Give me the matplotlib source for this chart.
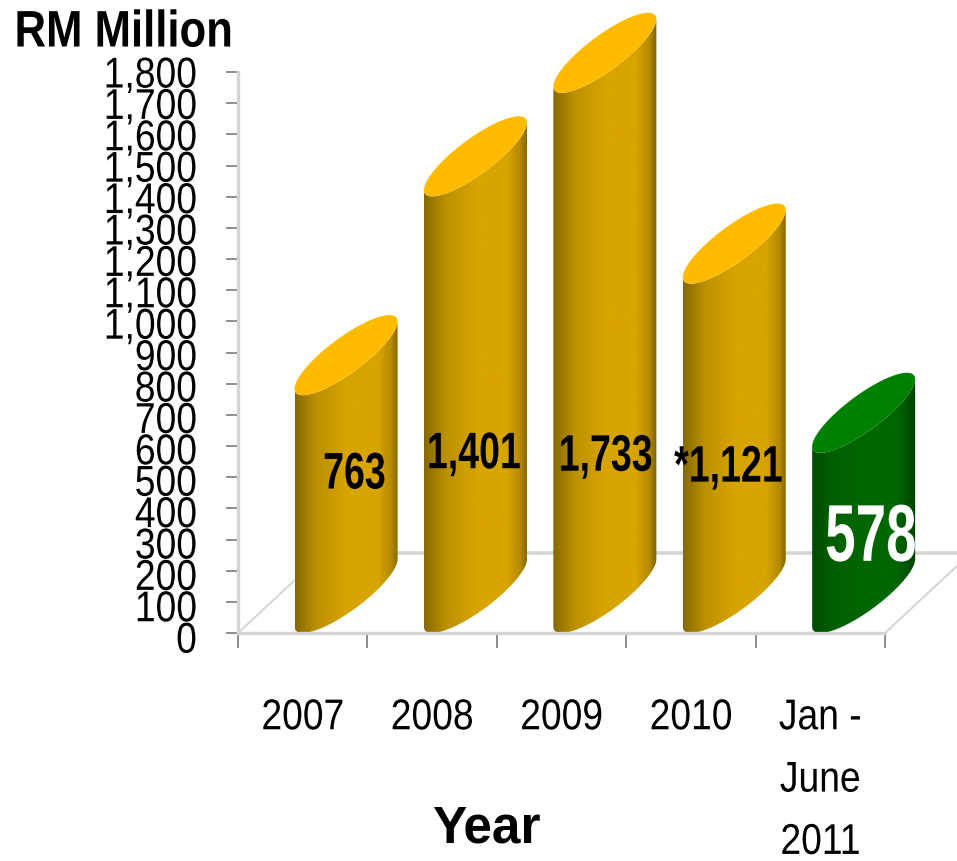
import numpy as np
from matplotlib import pyplot as plt, patheffects
from matplotlib.colors import LinearSegmentedColormap
from matplotlib.patches import PathPatch, Polygon
from matplotlib.path import Path
from matplotlib.transforms import Affine2D, ScaledTranslation

years = ['2007', '2008', '2009', '2010', 'Jan -\nJune\n2011']
values = [763, 1401, 1733, 1121, 578]
value_labels = ['763', '1,401', '1,733', '*1,121', '578']
y_ticks = list(range(0, 1801, 100))

# label centres, x in category units and y in RM million
label_x = [0.90, 1.82, 2.84, 3.79, 4.89]
label_y = [507, 572, 564, 529, 299]
label_colors = ['black', 'black', 'black', 'black', 'white']
label_sizes = [37, 37, 37, 37, 58]
label_squeeze = [0.73, 0.73, 0.73, 0.73, 0.68]

# floor depth, same units as the axes
depth_x = 0.665
depth_y = 257
bar_offset = 0.835
half_width = 0.398
tilt = np.arccos(0.84)

gold = LinearSegmentedColormap.from_list(
    'gold', [(0, '#856800'), (0.2, '#bb9000'), (0.5, '#d8a400'),
             (0.8, '#d8a400'), (0.93, '#b48a00'), (1, '#7a6000')])
green = LinearSegmentedColormap.from_list(
    'green', [(0, '#004a00'), (0.2, '#006000'), (0.5, '#006600'),
              (0.8, '#006600'), (0.93, '#005200'), (1, '#004000')])
bar_maps = [gold, gold, gold, gold, green]
top_colors = ['#ffbb00', '#ffbb00', '#ffbb00', '#ffbb00', '#008000']

font = 'Liberation Sans'
tick_size = 31


class Squeeze(patheffects.AbstractPathEffect):
    """Narrow the glyphs sideways, anchor=0.5 keeps the centre, 1 the right"""

    def __init__(self, factor, anchor=0.5):
        super().__init__()
        self.factor = factor
        self.anchor = anchor

    def draw_path(self, renderer, gc, tpath, affine, rgbFace=None):
        box = tpath.get_extents()
        x0 = box.x0 + self.anchor * box.width
        squeeze = Affine2D().translate(-x0, 0).scale(self.factor, 1).translate(x0, 0)
        renderer.draw_path(gc, tpath, squeeze + affine, rgbFace)


fig = plt.figure(figsize=(9.57, 8.61), dpi=100)
ax = fig.add_axes([238 / 957, 1 - 633 / 861, 647 / 957, 561 / 861])


def ellipse(cx, base, t):
    """Points on the tilted cylinder end whose lowest point sits at base"""
    b = depth_y / 2
    return np.column_stack((cx + half_width * np.cos(t),
                            base + b + b * np.cos(t - tilt)))


# floor of the 3D box
floor_color = '#d4d4d4'
ax.plot([depth_x, 6], [depth_y, depth_y], color=floor_color, lw=2.6,
        clip_on=False, zorder=1)
ax.plot([0, depth_x], [0, depth_y], color=floor_color, lw=1.4,
        clip_on=False, zorder=1)
ax.plot([5, 5 + depth_x], [0, depth_y], color=floor_color, lw=1.4,
        clip_on=False, zorder=1)

lower_arc = np.linspace(np.pi, 2 * np.pi, 80)
for i, value in enumerate(values):
    cx = i + bar_offset
    bottom = ellipse(cx, 0, lower_arc)
    top = ellipse(cx, value, lower_arc)[::-1]
    outline = np.vstack((bottom, top))
    body = PathPatch(Path(np.vstack((outline, outline[:1])), closed=True),
                     facecolor='none', edgecolor='none',
                     transform=ax.transData, clip_on=False)
    ax.add_patch(body)
    shade = np.linspace(0, 1, 256).reshape(1, -1)
    im = ax.imshow(shade, cmap=bar_maps[i], aspect='auto', zorder=2,
                   extent=(cx - half_width, cx + half_width, -10,
                           value + depth_y + 10))
    im.set_clip_box(fig.bbox)
    im.set_clip_path(body)
    ax.add_patch(Polygon(ellipse(cx, value, np.linspace(0, 2 * np.pi, 160)),
                         closed=True, facecolor=top_colors[i],
                         edgecolor='none', clip_on=False, zorder=3))

ax.set_xlim(0, 5)
ax.set_ylim(0, 1800)

for spine in ('top', 'right'):
    ax.spines[spine].set_visible(False)
ax.spines['left'].set(color=floor_color, linewidth=2.4)
ax.spines['bottom'].set(color=floor_color, linewidth=2.4)
ax.patch.set_visible(False)

ax.set_yticks(y_ticks)
ax.set_yticklabels(['{:,}'.format(v) for v in y_ticks],
                   fontfamily=font, fontsize=tick_size,
                   path_effects=[Squeeze(0.865, 1)])
ax.tick_params(axis='y', color='#8c8c8c', length=9, width=1.4, pad=20.5)
# labels sit a little wider apart than the ticks
for v, tick_label in zip(y_ticks, ax.get_yticklabels()):
    nudge = ScaledTranslation(0, -3 * (1 - v / 1800) / 72, fig.dpi_scale_trans)
    tick_label.set_transform(tick_label.get_transform() + nudge)

ax.set_xticks(range(6))
ax.set_xticklabels([])
ax.tick_params(axis='x', which='major', color='#8c8c8c', length=11, width=1.4)
ax.set_xticks(np.arange(5) + 0.5, minor=True)
ax.set_xticklabels(years, minor=True, fontfamily=font, fontsize=tick_size,
                   linespacing=1.72, path_effects=[Squeeze(0.865)])
ax.tick_params(axis='x', which='minor', length=0, pad=47)

for x, y, text, color, size, narrow in zip(label_x, label_y, value_labels,
                                           label_colors, label_sizes,
                                           label_squeeze):
    ax.text(x, y, text, color=color, fontsize=size, fontfamily=font,
            fontweight='bold', ha='center', va='center', zorder=5,
            clip_on=False, path_effects=[Squeeze(narrow)])

fig.text(14 / 957, 1 - 33 / 861, 'RM Million', fontfamily=font,
         fontweight='bold', fontsize=37, ha='left', va='center',
         path_effects=[Squeeze(0.85, 0)])
fig.text(486 / 957, 1 - 829 / 861, 'Year', fontfamily=font,
         fontweight='bold', fontsize=37, ha='center', va='center')

fig.savefig('out.png', dpi=100)
